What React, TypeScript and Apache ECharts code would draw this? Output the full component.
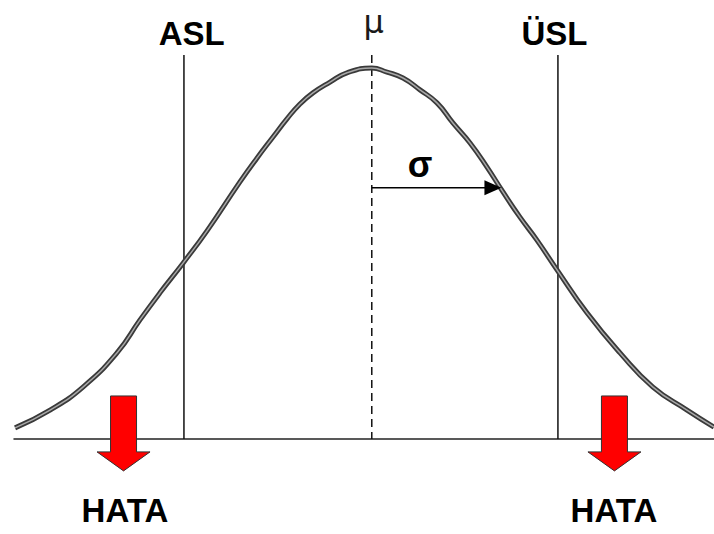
import React, { useEffect, useRef } from "react";
import * as echarts from "echarts";

// Normal curve (x in σ units from μ, y relative to peak height)
const curveX = [
  -2.752, -2.482, -2.228, -1.966, -1.788, -1.634, -1.456, -1.271, -1.017, -0.886, -0.762, -0.654, -0.554,
  -0.454, -0.322, -0.191, 0, 0.117, 0.241, 0.372, 0.503, 0.626, 0.758, 0.889, 1.012, 1.143, 1.274, 1.429,
  1.66, 1.915, 2.169, 2.432, 2.64,
];
const curveY = [
  0.03, 0.078, 0.14, 0.232, 0.321, 0.394, 0.474, 0.561, 0.693, 0.757, 0.814, 0.863, 0.903, 0.933, 0.962,
  0.987, 1.0, 0.989, 0.973, 0.941, 0.906, 0.852, 0.798, 0.733, 0.666, 0.598, 0.536, 0.456, 0.34, 0.232,
  0.14, 0.078, 0.032,
];

// Specification limits (ASL / ÜSL) and mean
const limitX = [-1.449, 1.436];
const limitTop = 1.035;
const meanX = 0;
const sigma = 1;
const sigmaArrowY = 0.677;

// Error (HATA) arrows
const errorX = [-1.915, 1.872];
const errorTop = 0.116;
const errorTip = -0.086;

// Text labels
const labelTexts = ["ASL", "ÜSL", "μ", "σ", "HATA", "HATA"];
const labelKinds = ["big", "big", "mu", "sigma", "big", "big"];
const labelX = [-1.389, 1.409, 0.015, 0.372, -1.904, 1.868];
const labelY = [1.094, 1.094, 1.125, 0.74, -0.193, -0.193];

const FONT = "'Liberation Sans', Arial, sans-serif";
const labelStyles: Record<string, any> = {
  big: { fontSize: 33, fontWeight: "bold", fill: "#000" },
  mu: { fontSize: 32, fontWeight: "normal", fill: "#1a1a1a", fontFamily: "'DejaVu Sans', sans-serif" },
  sigma: { fontSize: 36, fontWeight: "bold", fill: "#000" },
};

export default function App() {
  const ref = useRef<HTMLDivElement>(null);
  useEffect(() => {
    if (!ref.current) return;
    const chart = echarts.init(ref.current, undefined, { renderer: "svg" });
    const curveData = curveX.map((x, i) => [x, curveY[i]]);
    const SHAFT_HW = 13;
    const HEAD_HW = 26.5;
    const HEAD_LEN = 19;
    chart.setOption({
      animation: false,
      backgroundColor: "#fff",
      grid: { left: 14, right: 0, top: 19.77, bottom: 95 },
      xAxis: {
        type: "value",
        min: -2.76,
        max: 2.64,
        axisLine: { show: true, lineStyle: { color: "#222", width: 1.5 } },
        axisTick: { show: false },
        axisLabel: { show: false },
        splitLine: { show: false },
      },
      yAxis: {
        type: "value",
        min: 0,
        max: 1.13,
        show: false,
        splitLine: { show: false },
      },
      series: [
        {
          type: "custom",
          name: "limits",
          z: 1,
          clip: false,
          data: limitX.map((x) => [x, 0, limitTop]),
          renderItem: (params: any, api: any) => {
            const a = api.coord([api.value(0), api.value(2)]);
            const b = api.coord([api.value(0), api.value(1)]);
            return {
              type: "line",
              shape: { x1: a[0], y1: a[1], x2: b[0], y2: b[1] },
              style: { stroke: "#111", lineWidth: 1.5 },
            };
          },
        },
        {
          type: "custom",
          name: "mean",
          z: 1,
          clip: false,
          data: [[meanX, 0, limitTop]],
          renderItem: (params: any, api: any) => {
            const a = api.coord([api.value(0), api.value(2)]);
            const b = api.coord([api.value(0), api.value(1)]);
            return {
              type: "line",
              shape: { x1: a[0], y1: a[1], x2: b[0], y2: b[1] },
              style: { stroke: "#111", lineWidth: 1.5, lineDash: [8, 5] },
            };
          },
        },
        {
          type: "line",
          name: "curveOuter",
          z: 3,
          data: curveData,
          smooth: 0.5,
          showSymbol: false,
          symbol: "none",
          lineStyle: { color: "#3a3a3a", width: 5 },
        },
        {
          type: "line",
          name: "curveInner",
          z: 4,
          data: curveData,
          smooth: 0.5,
          showSymbol: false,
          symbol: "none",
          lineStyle: { color: "#a8a8a8", width: 1.5 },
        },
        {
          type: "custom",
          name: "sigma",
          z: 5,
          clip: false,
          data: [[meanX, sigmaArrowY, meanX + sigma]],
          renderItem: (params: any, api: any) => {
            const a = api.coord([api.value(0), api.value(1)]);
            const b = api.coord([api.value(2), api.value(1)]);
            return {
              type: "group",
              children: [
                {
                  type: "line",
                  shape: { x1: a[0], y1: a[1], x2: b[0] - 16, y2: b[1] },
                  style: { stroke: "#000", lineWidth: 1.5 },
                },
                {
                  type: "polygon",
                  shape: {
                    points: [
                      [b[0], b[1]],
                      [b[0] - 17, b[1] - 7.5],
                      [b[0] - 17, b[1] + 7.5],
                    ],
                  },
                  style: { fill: "#000" },
                },
              ],
            };
          },
        },
        {
          type: "custom",
          name: "errors",
          z: 5,
          clip: false,
          data: errorX.map((x) => [x, errorTop, errorTip]),
          renderItem: (params: any, api: any) => {
            const top = api.coord([api.value(0), api.value(1)]);
            const tip = api.coord([api.value(0), api.value(2)]);
            const cx = top[0];
            const hb = tip[1] - HEAD_LEN;
            return {
              type: "polygon",
              shape: {
                points: [
                  [cx - SHAFT_HW, top[1]],
                  [cx + SHAFT_HW, top[1]],
                  [cx + SHAFT_HW, hb],
                  [cx + HEAD_HW, hb],
                  [cx, tip[1]],
                  [cx - HEAD_HW, hb],
                  [cx - SHAFT_HW, hb],
                ],
              },
              style: { fill: "#ff0000", stroke: "#333", lineWidth: 1 },
            };
          },
        },
        {
          type: "custom",
          name: "labels",
          z: 6,
          clip: false,
          data: labelX.map((x, i) => [x, labelY[i]]),
          renderItem: (params: any, api: any) => {
            const p = api.coord([api.value(0), api.value(1)]);
            const i = params.dataIndex;
            return {
              type: "text",
              x: p[0],
              y: p[1],
              style: {
                text: labelTexts[i],
                fontFamily: FONT,
                align: "center",
                verticalAlign: "middle",
                ...labelStyles[labelKinds[i]],
              },
            };
          },
        },
      ],
    });
    return () => chart.dispose();
  }, []);
  return (
    <div
      ref={ref}
      style={{ position: "fixed", left: 0, top: 0, width: 714, height: 534, background: "#fff" }}
    />
  );
}
